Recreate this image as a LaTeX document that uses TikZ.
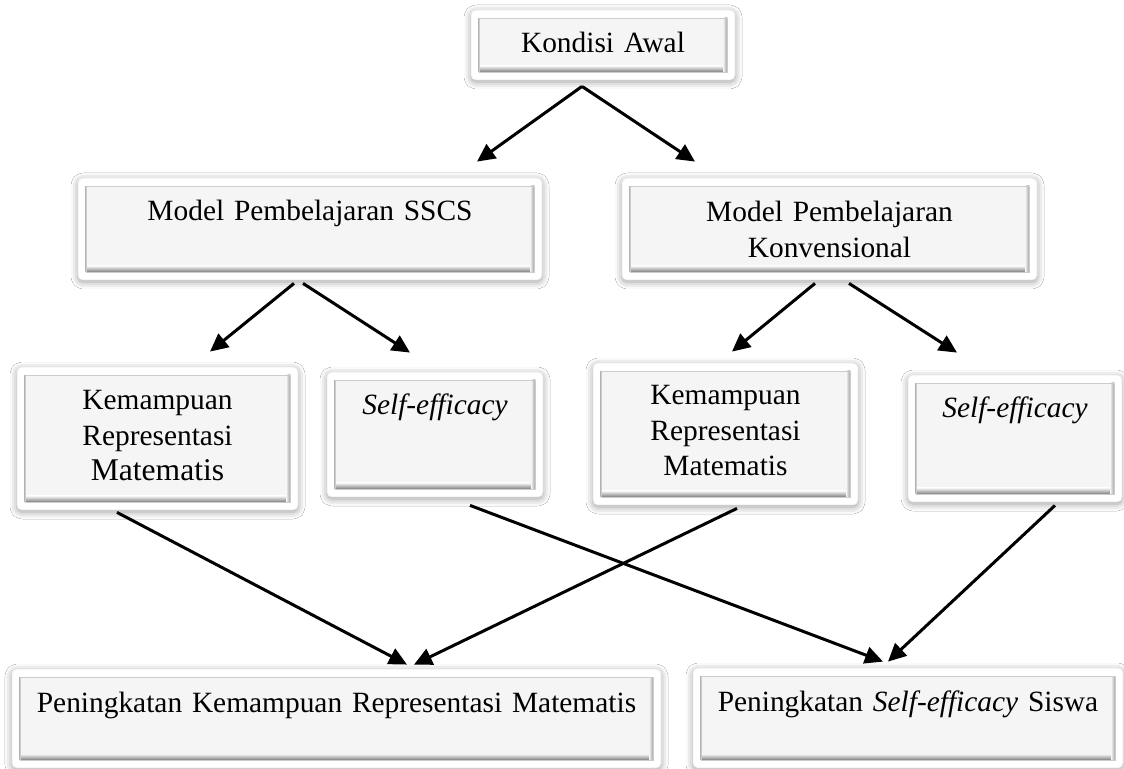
\documentclass[tikz,border=0pt]{standalone}
\usepackage{fontspec}
\setmainfont{Liberation Serif}
\usetikzlibrary{arrows.meta,shadows.blur}

\newcommand\bev{4pt}
\newcommand\txtdrop{21.5pt}

\tikzset{
  bevelbox/.style={draw=black!8, line width=0.4pt, fill=white, rounded corners=2.5pt, inner sep=0pt,
    blur shadow={shadow xshift=0pt, shadow yshift=-1pt, shadow blur radius=3.5pt, shadow opacity=40},
    path picture={
      \path[sharp corners] (path picture bounding box.north west) coordinate (pNW)
        (path picture bounding box.north east) coordinate (pNE)
        (path picture bounding box.south west) coordinate (pSW)
        (path picture bounding box.south east) coordinate (pSE);
      \fill[sharp corners, black!4] ([shift={(\bev,-\bev)}]pNW) rectangle ([shift={(-\bev,\bev)}]pSE);
      \shade[sharp corners, top color=black!4, bottom color=black!50] ([shift={(\bev,\bev)}]pSW) rectangle ([shift={(-\bev,\bev+3pt)}]pSE);
      \shade[sharp corners, left color=black!4, right color=black!35] ([shift={(-\bev-2pt,\bev)}]pSE) rectangle ([shift={(-\bev,-\bev)}]pNE);
      \draw[sharp corners, black!30, line width=0.6pt] ([shift={(\bev,\bev)}]pSW) -- ([shift={(\bev,-\bev)}]pNW);
      \draw[sharp corners, black!20, line width=0.4pt] ([shift={(\bev,-\bev)}]pNW) rectangle ([shift={(-\bev,\bev)}]pSE);
    }},
  boxtext/.style={anchor=base, align=center, inner sep=0pt, font=\fontsize{14.7}{17.75}\selectfont},
  arr/.style={-{Triangle[length=9pt,width=8.5pt]}, line width=1.5pt}
}

\begin{document}
\begin{tikzpicture}[x=0.5pt,y=-0.5pt]
  \useasboundingbox[fill=white] (0,0) rectangle (1124,769);

  \node[bevelbox, minimum width=132pt, minimum height=35pt] (ka) at (603,45) {};
  \node[bevelbox, minimum width=232pt, minimum height=51pt] (sscs) at (310,229) {};
  \node[bevelbox, minimum width=207.5pt, minimum height=51pt] (konv) at (829.5,229) {};
  \node[bevelbox, minimum width=140.5pt, minimum height=71.5pt] (kemL) at (157.5,438.5) {};
  \node[bevelbox, minimum width=108pt, minimum height=62.5pt] (selfL) at (435,434.5) {};
  \node[bevelbox, minimum width=132.5pt, minimum height=71pt] (kemR) at (725.5,434) {};
  \node[bevelbox, minimum width=107pt, minimum height=63.5pt] (selfR) at (1015,438.5) {};
  \node[bevelbox, minimum width=324.5pt, minimum height=49.5pt] (botL) at (336.5,718.5) {};
  \node[bevelbox, minimum width=215pt, minimum height=50pt] (botR) at (908,718) {};

  \node[boxtext, text width=120pt] (kaT) at ([yshift=-\txtdrop]ka.north) {Kondisi Awal};
  \node[boxtext, text width=220pt] (sscsT) at ([yshift=-\txtdrop]sscs.north) {Model Pembelajaran SSCS};
  \node[boxtext, text width=195pt] (konvT) at ([yshift=-22pt]konv.north) {Model Pembelajaran\\ Konvensional};
  \node[boxtext, text width=130pt] (kemLT) at ([yshift=-\txtdrop]kemL.north) {Kemampuan\\ Representasi\\ {\fontsize{15.8}{19}\selectfont Matematis}};
  \node[boxtext, text width=100pt] (selfLT) at ([yshift=-\txtdrop]selfL.north) {\textit{Self-efficacy}};
  \node[boxtext, text width=122pt] (kemRT) at ([yshift=-21pt]kemR.north) {Kemampuan\\ Representasi\\ Matematis};
  \node[boxtext, text width=100pt] (selfRT) at ([yshift=-\txtdrop]selfR.north) {\textit{Self-efficacy}};
  \node[boxtext, text width=316pt] (botLT) at ([yshift=-22pt]botL.north) {Peningkatan Kemampuan Representasi Matematis};
  \node[boxtext, text width=207pt] (botRT) at ([yshift=-22pt]botR.north) {Peningkatan \textit{Self-efficacy} Siswa};

  \draw[arr] ([shift={(-21,6)}]ka.south) -- ([shift={(167,-16)}]sscs.north);
  \draw[arr] ([shift={(-21,6)}]ka.south) -- ([shift={(-134.5,-16)}]konv.north);
  \draw[arr] ([shift={(-16,3)}]sscs.south) -- ([shift={(52.5,-15)}]kemL.north);
  \draw[arr] ([shift={(-7,3)}]sscs.south) -- ([shift={(-25,-19)}]selfL.north);
  \draw[arr] ([shift={(-14.5,3)}]konv.south) -- ([shift={(6.5,-11)}]kemR.north);
  \draw[arr] ([shift={(19.5,3)}]konv.south) -- ([shift={(-58,-22)}]selfR.north);
  \draw[arr] ([shift={(-40.5,2)}]kemL.south) -- ([shift={(70.5,-4)}]botL.north);
  \draw[arr] ([shift={(11.5,3)}]kemR.south) -- ([shift={(77.5,-4)}]botL.north);
  \draw[arr] ([shift={(35,8)}]selfL.south) -- ([shift={(-25,-6)}]botR.north);
  \draw[arr] ([shift={(40,3)}]selfR.south) -- ([shift={(-20,-6)}]botR.north);
\end{tikzpicture}
\end{document}
